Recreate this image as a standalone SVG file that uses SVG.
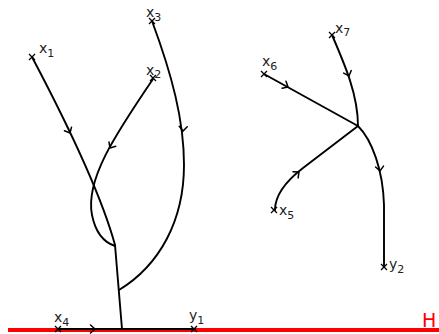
<svg xmlns="http://www.w3.org/2000/svg" xmlns:xlink="http://www.w3.org/1999/xlink" width="439" height="334" viewBox="0 0 439 334">
  <style>
    .edge { fill: none; stroke: #000; stroke-width: 1.9; stroke-linecap: round; stroke-linejoin: round; }
    .head { fill: none; stroke: #000; stroke-width: 1.5; stroke-linecap: round; stroke-linejoin: miter; }
    .mark { fill: none; stroke: #000; stroke-width: 1.3; }
    .lbl { font-family: "DejaVu Sans", Verdana, sans-serif; font-size: 14px; fill: #222; }
    .sub { font-size: 11px; }
    .h { font-family: "DejaVu Sans", Verdana, sans-serif; font-size: 19px; fill: #ff0000; }
  </style>
  <defs>
    <path id="chev" d="M-4.5,-4 L0,0 L-4.5,4"/>
    <path id="cross" d="M-3,-3 L3,3 M-3,3 L3,-3"/>
  </defs>

  <!-- boundary line H -->
  <g id="boundary">
    <line x1="8" y1="330" x2="439" y2="330" stroke="#ff0000" stroke-width="4"/>
    <text class="h" x="422" y="327">H</text>
  </g>

  <!-- connectors -->
  <g id="connectors">
    <!-- left tree -->
    <path class="edge" d="M32,57 C60,110 100,190 115,245"/>
    <path class="edge" d="M153,79 C115,135 85,180 92,215 C96,235 106,243 115,246"/>
    <path class="edge" d="M152,21 C172,75 184,120 184,165 C184,220 160,265 119,290"/>
    <path class="edge" d="M115,245 L122,329"/>
    <path class="edge" d="M58,329 L195,329"/>
    <!-- right tree -->
    <path class="edge" d="M264,74 L358,126"/>
    <path class="edge" d="M332,35 C345,65 358,95 358,126"/>
    <path class="edge" d="M275,210 C275,192 290,178 303,168 L358,126"/>
    <path class="edge" d="M358,126 C372,140 383,170 384,205 L384,267"/>
    <!-- direction marks -->
    <use class="head" xlink:href="#chev" transform="translate(70,133) rotate(63)"/>
    <use class="head" xlink:href="#chev" transform="translate(110,148) rotate(122)"/>
    <use class="head" xlink:href="#chev" transform="translate(183,131) rotate(93)"/>
    <use class="head" xlink:href="#chev" transform="translate(95,329) rotate(0)"/>
    <use class="head" xlink:href="#chev" transform="translate(288,87) rotate(29)"/>
    <use class="head" xlink:href="#chev" transform="translate(349,76) rotate(70)"/>
    <use class="head" xlink:href="#chev" transform="translate(299,172) rotate(-40)"/>
    <use class="head" xlink:href="#chev" transform="translate(380,171) rotate(84)"/>
  </g>

  <!-- endpoints -->
  <g id="x1">
    <use class="mark" xlink:href="#cross" x="32" y="57"/>
    <text class="lbl" x="39" y="53">x<tspan class="sub" dy="4">1</tspan></text>
  </g>
  <g id="x2">
    <use class="mark" xlink:href="#cross" x="153" y="78"/>
    <text class="lbl" x="146" y="75">x<tspan class="sub" dy="3">2</tspan></text>
  </g>
  <g id="x3">
    <use class="mark" xlink:href="#cross" x="152" y="21"/>
    <text class="lbl" x="146" y="17">x<tspan class="sub" dy="4">3</tspan></text>
  </g>
  <g id="x4">
    <use class="mark" xlink:href="#cross" x="58" y="329"/>
    <text class="lbl" x="54" y="322">x<tspan class="sub" dy="4">4</tspan></text>
  </g>
  <g id="y1">
    <use class="mark" xlink:href="#cross" x="194" y="329"/>
    <text class="lbl" x="189" y="320">y<tspan class="sub" dy="4">1</tspan></text>
  </g>
  <g id="x5">
    <use class="mark" xlink:href="#cross" x="274" y="210"/>
    <text class="lbl" x="279" y="215">x<tspan class="sub" dy="4">5</tspan></text>
  </g>
  <g id="x6">
    <use class="mark" xlink:href="#cross" x="264" y="74"/>
    <text class="lbl" x="262" y="66">x<tspan class="sub" dy="4">6</tspan></text>
  </g>
  <g id="x7">
    <use class="mark" xlink:href="#cross" x="332" y="35"/>
    <text class="lbl" x="335" y="33">x<tspan class="sub" dy="3">7</tspan></text>
  </g>
  <g id="y2">
    <use class="mark" xlink:href="#cross" x="384" y="267"/>
    <text class="lbl" x="389" y="269">y<tspan class="sub" dy="4">2</tspan></text>
  </g>
</svg>
